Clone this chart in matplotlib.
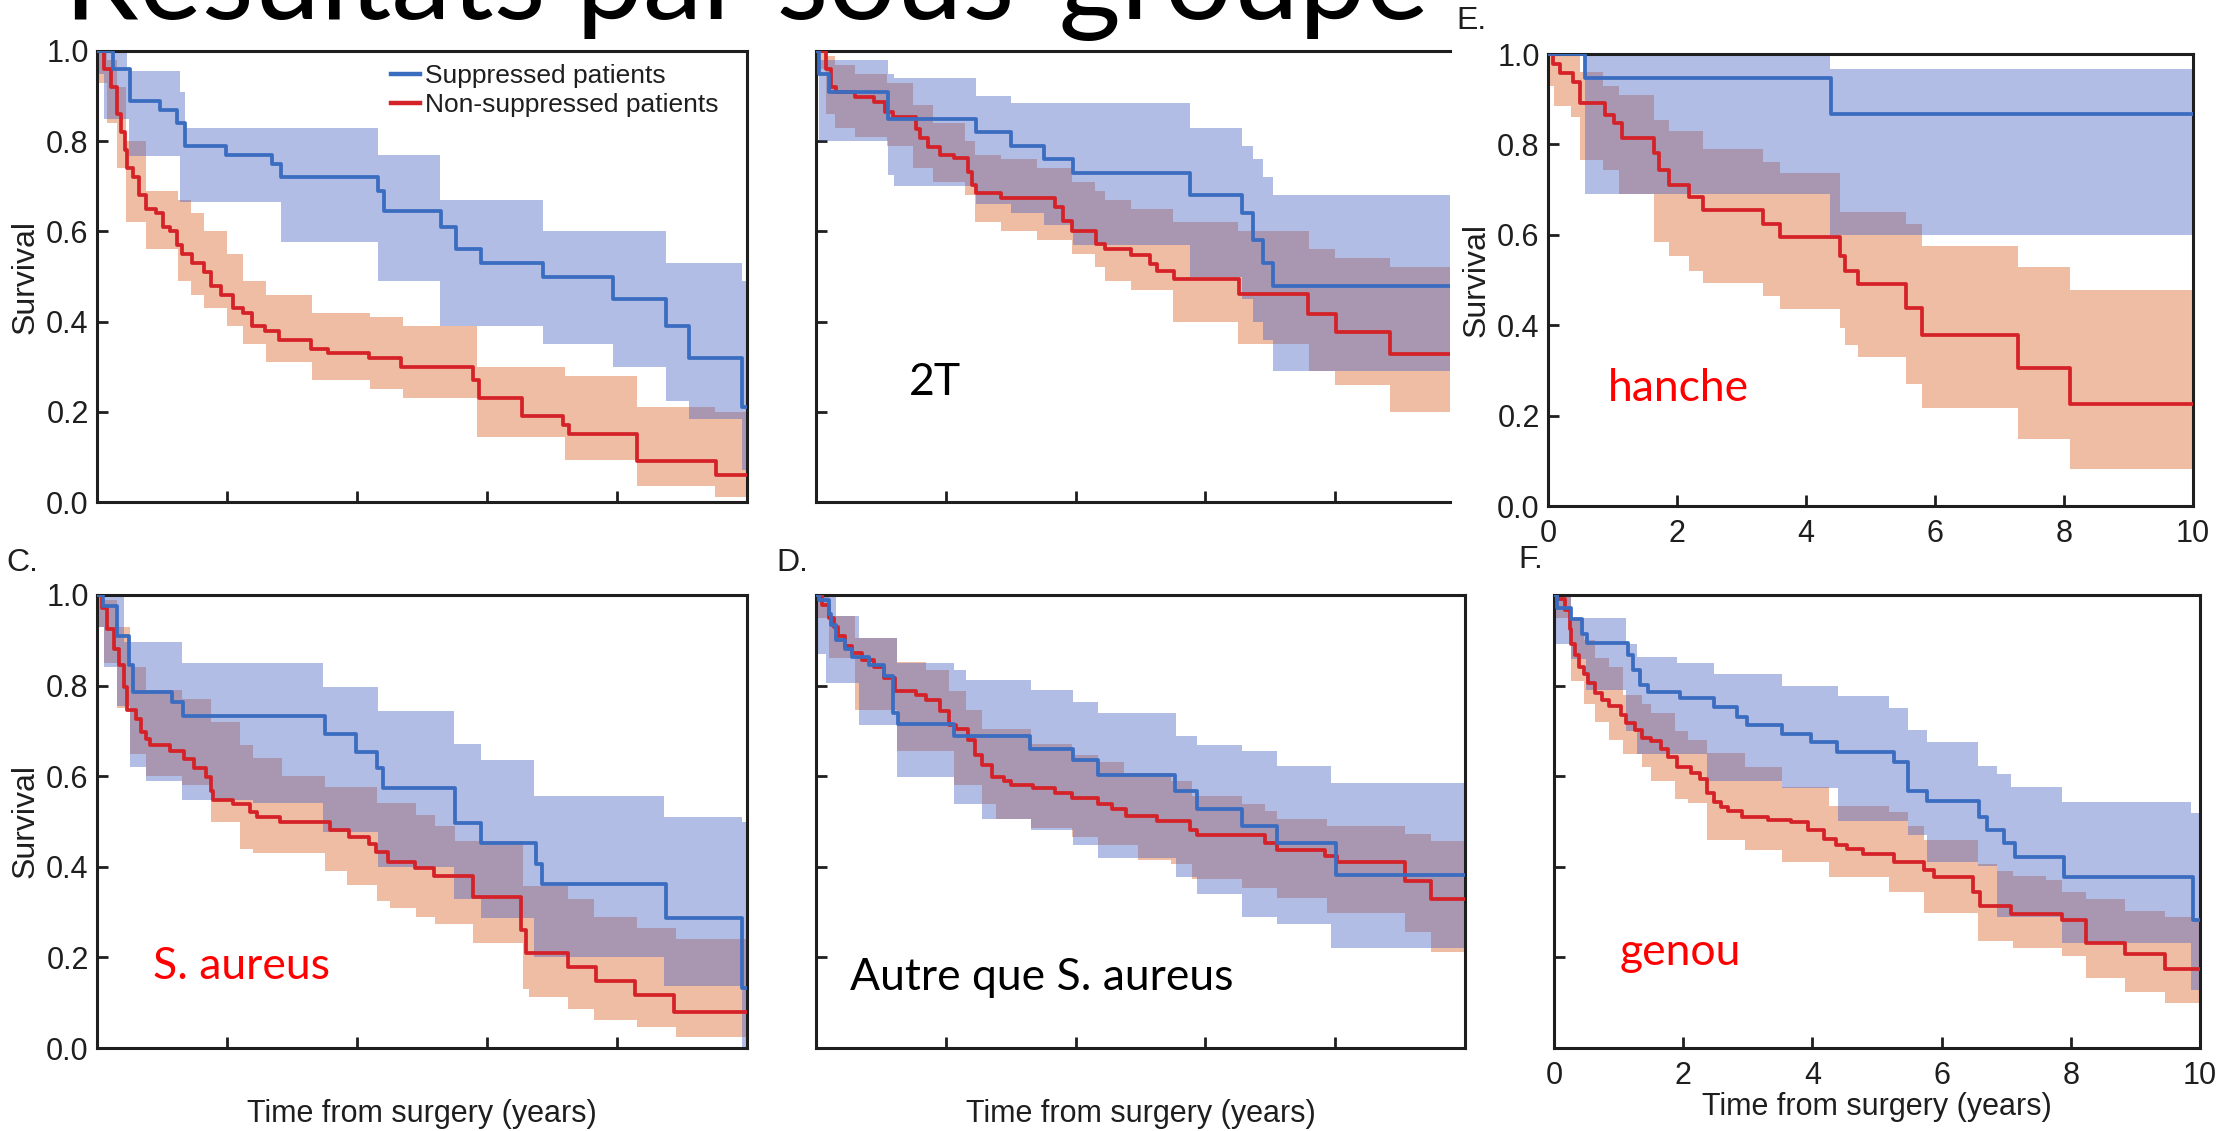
import numpy as np
import matplotlib.pyplot as plt

W, H = 2236, 1131

# ---- A. all patients ----
a_sup_t = [0, 0.24, 0.51, 0.97, 1.23, 1.35, 1.98, 2.69, 2.83, 4.33, 4.41, 5.29, 5.53, 5.90, 6.86, 7.94, 8.76, 9.10, 9.93]
a_sup_s = [1.0, 0.96, 0.89, 0.87, 0.84, 0.79, 0.77, 0.75, 0.72, 0.69, 0.645, 0.61, 0.56, 0.53, 0.50, 0.45, 0.39, 0.32, 0.21]
a_sup_bt = [0, 0.1, 0.46, 0.49, 1.27, 1.35, 2.83, 4.33, 5.27, 6.86, 7.94, 8.76, 9.1, 9.93]
a_sup_hi = [1.0, 1.0, 0.955, 0.955, 0.91, 0.83, 0.83, 0.77, 0.67, 0.60, 0.60, 0.53, 0.53, 0.49]
a_sup_lo = [0.95, 0.85, 0.85, 0.767, 0.665, 0.665, 0.577, 0.49, 0.39, 0.35, 0.30, 0.225, 0.185, 0.07]

a_non_t = [0, 0.11, 0.21, 0.30, 0.37, 0.43, 0.46, 0.56, 0.64, 0.75, 0.90, 1.01, 1.12, 1.23, 1.31, 1.46, 1.64,
           1.76, 1.91, 2.09, 2.24, 2.39, 2.58, 2.80, 3.29, 3.55, 4.19, 4.67, 5.79, 5.87, 6.54, 7.17, 7.26, 8.30, 9.53]
a_non_s = [1.0, 0.96, 0.92, 0.86, 0.82, 0.78, 0.74, 0.72, 0.68, 0.65, 0.64, 0.61, 0.60, 0.57, 0.55, 0.53, 0.51,
           0.48, 0.46, 0.43, 0.42, 0.39, 0.38, 0.36, 0.34, 0.33, 0.32, 0.30, 0.27, 0.23, 0.19, 0.17, 0.15, 0.09, 0.06]
a_non_bt = [0, 0.15, 0.3, 0.45, 0.75, 1.25, 1.45, 1.65, 2.0, 2.25, 2.6, 3.3, 4.2, 4.7, 5.85, 7.2, 8.3, 9.5]
a_non_hi = [1.0, 0.98, 0.92, 0.80, 0.69, 0.67, 0.64, 0.60, 0.55, 0.49, 0.46, 0.42, 0.41, 0.39, 0.30, 0.28, 0.21, 0.20]
a_non_lo = [0.93, 0.84, 0.74, 0.62, 0.56, 0.49, 0.46, 0.43, 0.39, 0.35, 0.31, 0.27, 0.25, 0.23, 0.145, 0.094, 0.035, 0.01]

# ---- B. two-stage exchange ----
b_sup_t = [0, 0.04, 0.20, 1.11, 2.47, 3.0, 3.51, 3.96, 5.77, 6.56, 6.74, 6.89, 7.05]
b_sup_s = [1.0, 0.95, 0.91, 0.85, 0.82, 0.79, 0.76, 0.73, 0.68, 0.64, 0.58, 0.53, 0.48]
b_sup_bt = [0, 0.04, 0.2, 1.11, 1.2, 2.47, 3.0, 3.51, 3.96, 5.77, 6.56, 6.74, 6.89, 7.05, 7.6]
b_sup_hi = [1.0, 0.98, 0.98, 0.95, 0.94, 0.90, 0.885, 0.885, 0.885, 0.83, 0.79, 0.76, 0.72, 0.68, 0.68]
b_sup_lo = [0.96, 0.80, 0.80, 0.725, 0.70, 0.66, 0.64, 0.615, 0.57, 0.50, 0.45, 0.40, 0.36, 0.29, 0.29]

b_non_t = [0, 0.16, 0.23, 0.31, 0.6, 0.89, 1.07, 1.18, 1.54, 1.61, 1.72, 1.91, 2.12, 2.34, 2.41, 2.47, 2.85,
           3.69, 3.80, 3.94, 4.31, 4.45, 4.85, 5.14, 5.25, 5.51, 6.52, 7.58, 8.01, 8.85]
b_non_s = [1.0, 0.96, 0.92, 0.908, 0.897, 0.886, 0.864, 0.853, 0.828, 0.806, 0.787, 0.769, 0.762, 0.732, 0.703,
           0.685, 0.673, 0.655, 0.622, 0.600, 0.571, 0.560, 0.547, 0.527, 0.512, 0.494, 0.461, 0.417, 0.376, 0.329]
b_non_bt = [0, 0.16, 0.3, 0.6, 1.1, 1.5, 1.8, 2.3, 2.45, 2.85, 3.4, 3.94, 4.3, 4.45, 4.85, 5.5, 6.5, 7.6, 8.0, 8.85]
b_non_hi = [1.0, 0.99, 0.97, 0.95, 0.93, 0.88, 0.84, 0.80, 0.77, 0.76, 0.74, 0.71, 0.69, 0.67, 0.65, 0.62, 0.60, 0.56, 0.54, 0.52]
b_non_lo = [0.96, 0.86, 0.83, 0.81, 0.79, 0.74, 0.71, 0.68, 0.62, 0.60, 0.58, 0.55, 0.52, 0.49, 0.47, 0.40, 0.35, 0.29, 0.26, 0.20]

# ---- E. hip ----
e_sup_t = [0, 0.57, 4.39]
e_sup_s = [1.0, 0.946, 0.868]
e_sup_bt = [0, 0.57, 4.37]
e_sup_hi = [1.0, 1.0, 0.967]
e_sup_lo = [1.0, 0.69, 0.60]

e_non_t = [0, 0.08, 0.18, 0.38, 0.50, 0.88, 1.03, 1.15, 1.64, 1.72, 1.87, 2.18, 2.40, 3.34, 3.59, 4.53, 4.60,
           4.81, 5.55, 5.80, 7.29, 8.09]
e_non_s = [1.0, 0.978, 0.959, 0.937, 0.892, 0.866, 0.848, 0.814, 0.78, 0.743, 0.71, 0.684, 0.654, 0.625, 0.595,
           0.554, 0.519, 0.491, 0.439, 0.379, 0.305, 0.225]
e_non_bt = [0, 0.1, 0.35, 0.5, 0.85, 1.1, 1.64, 1.87, 2.18, 2.40, 3.34, 3.59, 4.53, 4.60, 4.81, 5.55, 5.80, 7.29, 8.09]
e_non_hi = [1.0, 1.0, 1.0, 0.96, 0.93, 0.91, 0.855, 0.83, 0.83, 0.79, 0.76, 0.736, 0.65, 0.65, 0.65, 0.625, 0.576, 0.528, 0.477]
e_non_lo = [0.93, 0.885, 0.86, 0.766, 0.743, 0.69, 0.584, 0.554, 0.52, 0.494, 0.465, 0.435, 0.394, 0.357, 0.329,
            0.271, 0.217, 0.149, 0.082]

# ---- C. S. aureus ----
c_sup_t = [0, 0.09, 0.30, 0.49, 0.55, 1.16, 1.33, 3.51, 3.98, 4.31, 4.40, 5.51, 5.90, 6.75, 6.85, 8.75, 9.93]
c_sup_s = [1.0, 0.975, 0.909, 0.846, 0.786, 0.763, 0.732, 0.693, 0.653, 0.617, 0.573, 0.496, 0.452, 0.407, 0.361, 0.288, 0.133]
c_sup_bt = [0, 0.1, 0.3, 0.41, 0.5, 0.75, 1.31, 2.4, 3.47, 4.33, 5.49, 5.90, 6.72, 8.73, 9.93]
c_sup_hi = [1.0, 1.0, 1.0, 0.896, 0.896, 0.896, 0.85, 0.85, 0.797, 0.743, 0.672, 0.635, 0.556, 0.51, 0.50]
c_sup_lo = [0.93, 0.84, 0.755, 0.755, 0.62, 0.59, 0.548, 0.54, 0.477, 0.40, 0.33, 0.286, 0.20, 0.137, 0.0]

c_non_t = [0, 0.07, 0.16, 0.26, 0.34, 0.41, 0.46, 0.60, 0.67, 0.75, 0.82, 1.12, 1.34, 1.49, 1.68, 1.75, 1.79,
           2.09, 2.35, 2.46, 2.82, 3.58, 3.87, 4.18, 4.29, 4.48, 4.89, 5.19, 5.78, 6.53, 6.60, 7.24, 7.67, 8.28, 8.88]
c_non_s = [1.0, 0.971, 0.925, 0.88, 0.846, 0.797, 0.747, 0.726, 0.697, 0.682, 0.668, 0.656, 0.639, 0.618, 0.598,
           0.568, 0.548, 0.539, 0.521, 0.51, 0.498, 0.481, 0.465, 0.45, 0.432, 0.411, 0.398, 0.379, 0.334, 0.26,
           0.209, 0.178, 0.149, 0.116, 0.079]
c_non_bt = [0, 0.1, 0.3, 0.5, 0.75, 1.3, 1.75, 2.2, 2.4, 2.85, 3.5, 3.85, 4.3, 4.5, 4.9, 5.2, 5.5, 5.78, 6.55,
            6.65, 7.25, 7.65, 8.3, 8.9]
c_non_hi = [1.0, 0.99, 0.93, 0.84, 0.79, 0.77, 0.72, 0.668, 0.64, 0.60, 0.577, 0.577, 0.54, 0.54, 0.515, 0.49,
            0.456, 0.456, 0.357, 0.357, 0.33, 0.29, 0.266, 0.24]
c_non_lo = [0.93, 0.85, 0.75, 0.65, 0.60, 0.58, 0.50, 0.44, 0.43, 0.43, 0.39, 0.36, 0.324, 0.31, 0.29, 0.274,
            0.274, 0.232, 0.13, 0.112, 0.087, 0.062, 0.046, 0.025]

# ---- D. other than S. aureus ----
d_sup_t = [0, 0.05, 0.20, 0.23, 0.31, 0.45, 0.56, 0.81, 1.05, 1.19, 1.27, 2.12, 3.30, 3.96, 4.34, 5.53, 5.87, 6.57, 7.11, 8.01]
d_sup_s = [1.0, 0.988, 0.958, 0.934, 0.90, 0.88, 0.863, 0.846, 0.822, 0.739, 0.715, 0.689, 0.66, 0.635, 0.602,
           0.568, 0.527, 0.49, 0.452, 0.383]
d_sup_bt = [0, 0.16, 0.31, 0.67, 1.18, 1.25, 2.05, 2.12, 2.31, 2.56, 3.32, 3.96, 4.34, 5.54, 5.87, 6.56, 7.11, 7.94]
d_sup_hi = [1.0, 1.0, 0.954, 0.905, 0.905, 0.85, 0.85, 0.834, 0.813, 0.813, 0.79, 0.763, 0.739, 0.689, 0.668,
            0.656, 0.622, 0.585]
d_sup_lo = [0.87, 0.805, 0.805, 0.714, 0.714, 0.598, 0.598, 0.539, 0.539, 0.506, 0.481, 0.448, 0.419, 0.378, 0.34,
            0.29, 0.274, 0.22]

d_non_t = [0, 0.09, 0.20, 0.27, 0.34, 0.45, 0.56, 0.71, 0.89, 1.05, 1.21, 1.54, 1.69, 1.91, 2.05, 2.16, 2.34,
           2.45, 2.56, 2.71, 2.89, 3.0, 3.35, 3.69, 3.94, 4.34, 4.56, 4.78, 5.25, 5.77, 5.87, 6.92, 7.11, 7.85,
           8.03, 9.07, 9.47]
d_non_s = [1.0, 0.979, 0.95, 0.93, 0.909, 0.888, 0.871, 0.856, 0.842, 0.817, 0.788, 0.78, 0.768, 0.743, 0.714,
           0.705, 0.68, 0.647, 0.624, 0.598, 0.589, 0.581, 0.574, 0.564, 0.552, 0.539, 0.527, 0.513, 0.502, 0.481,
           0.471, 0.452, 0.436, 0.423, 0.411, 0.369, 0.328]
d_non_bt = [0, 0.2, 0.6, 1.25, 1.69, 2.05, 2.12, 2.31, 2.56, 2.78, 3.32, 3.94, 4.34, 4.74, 4.96, 5.47, 5.8, 6.56,
            6.92, 7.11, 7.87, 9.07, 9.47]
d_non_hi = [1.0, 0.954, 0.905, 0.853, 0.834, 0.788, 0.788, 0.747, 0.705, 0.705, 0.672, 0.647, 0.631, 0.606, 0.606,
            0.589, 0.556, 0.539, 0.523, 0.506, 0.49, 0.473, 0.456]
d_non_lo = [0.95, 0.86, 0.747, 0.655, 0.655, 0.655, 0.581, 0.581, 0.539, 0.506, 0.485, 0.465, 0.448, 0.448, 0.415,
            0.407, 0.373, 0.353, 0.353, 0.332, 0.299, 0.257, 0.212]

# ---- F. knee ----
f_sup_t = [0, 0.04, 0.27, 0.43, 0.51, 1.14, 1.23, 1.33, 1.45, 1.95, 2.48, 2.84, 2.99, 3.53, 3.98, 4.38, 5.26,
           5.48, 5.78, 6.58, 6.71, 6.96, 7.13, 7.90, 9.89]
f_sup_s = [1.0, 0.971, 0.946, 0.913, 0.894, 0.867, 0.834, 0.801, 0.786, 0.772, 0.753, 0.73, 0.714, 0.693, 0.676,
           0.653, 0.631, 0.568, 0.545, 0.51, 0.481, 0.452, 0.421, 0.378, 0.282]
f_sup_bt = [0, 0.27, 0.49, 1.11, 1.29, 1.9, 2.37, 2.48, 3.53, 4.40, 5.19, 5.48, 5.77, 6.57, 6.85, 7.07, 7.87, 9.86]
f_sup_hi = [1.0, 0.95, 0.95, 0.892, 0.863, 0.85, 0.85, 0.826, 0.80, 0.776, 0.751, 0.701, 0.676, 0.622, 0.605,
            0.577, 0.544, 0.519]
f_sup_lo = [0.892, 0.859, 0.79, 0.70, 0.65, 0.65, 0.589, 0.589, 0.573, 0.502, 0.502, 0.47, 0.411, 0.402, 0.29,
            0.29, 0.232, 0.129]

f_non_t = [0, 0.04, 0.17, 0.24, 0.27, 0.33, 0.38, 0.46, 0.53, 0.64, 0.74, 0.85, 1.03, 1.11, 1.25, 1.36, 1.50,
           1.65, 1.76, 1.90, 2.12, 2.26, 2.37, 2.48, 2.59, 2.70, 2.91, 3.31, 3.67, 3.93, 4.18, 4.36, 4.54, 4.79,
           5.26, 5.73, 5.88, 6.49, 6.60, 7.07, 7.87, 8.23, 8.84, 9.46]
f_non_s = [1.0, 0.992, 0.967, 0.925, 0.892, 0.867, 0.842, 0.826, 0.805, 0.784, 0.768, 0.755, 0.734, 0.718, 0.701,
           0.685, 0.678, 0.66, 0.643, 0.62, 0.606, 0.593, 0.564, 0.544, 0.531, 0.523, 0.51, 0.504, 0.498, 0.481,
           0.461, 0.448, 0.44, 0.429, 0.411, 0.394, 0.378, 0.344, 0.313, 0.296, 0.282, 0.232, 0.207, 0.174]
f_non_bt = [0, 0.27, 0.46, 0.64, 0.85, 1.07, 1.36, 1.50, 1.87, 2.08, 2.37, 2.95, 3.53, 4.25, 5.19, 5.48, 5.73,
            6.57, 6.85, 7.11, 7.61, 7.87, 8.23, 8.84, 9.46, 9.89]
f_non_hi = [1.0, 0.95, 0.90, 0.86, 0.84, 0.78, 0.76, 0.74, 0.70, 0.68, 0.651, 0.62, 0.577, 0.535, 0.52, 0.49,
            0.46, 0.407, 0.39, 0.38, 0.37, 0.344, 0.33, 0.303, 0.29, 0.282]
f_non_lo = [0.95, 0.81, 0.76, 0.72, 0.68, 0.65, 0.62, 0.59, 0.55, 0.54, 0.46, 0.436, 0.41, 0.378, 0.344, 0.344,
            0.299, 0.237, 0.237, 0.22, 0.22, 0.203, 0.154, 0.124, 0.10, 0.10]

yticks = [0.0, 0.2, 0.4, 0.6, 0.8, 1.0]
xticks = [0, 2, 4, 6, 8, 10]
legend_labels = ['Suppressed patients', 'Non-suppressed patients']

BLUE = '#3a6cc0'
RED = '#d42228'
BLUE_BAND = (0.30, 0.40, 0.78)
RED_BAND = (0.86, 0.40, 0.17)
AX_FONT = ['Liberation Sans', 'DejaVu Sans']
NOTE_FONT = ['Lato', 'DejaVu Sans']
INK = '#1e1e1e'

fig = plt.figure(figsize=(W / 100, H / 100), dpi=100)


def px_axes(left, top, right, bottom):
    return fig.add_axes([left / W, 1 - bottom / H, (right - left) / W, (bottom - top) / H])


def km(ax, t, s, bt, lo, hi, color, band, xmax, z):
    bt_ext = np.append(bt, xmax)
    ax.fill_between(bt_ext, np.append(lo, lo[-1]), np.append(hi, hi[-1]), step='post',
                    color=band, alpha=0.43, lw=0, zorder=z)
    line, = ax.step(np.append(t, xmax), np.append(s, s[-1]), where='post', color=color, lw=2.7, zorder=z + 3)
    return line


def panel(box, sup, non, xmax=10, ylab=False, xlab=False, xticklab=False, right_spine=True):
    ax = px_axes(*box)
    km(ax, *non, RED, RED_BAND, xmax, 1)
    km(ax, *sup, BLUE, BLUE_BAND, xmax, 2)
    ax.set_xlim(0, xmax)
    ax.set_ylim(0, 1.0)
    ax.set_xticks(xticks[:-1] if xmax < 10 else xticks)
    ax.set_yticks(yticks)
    ax.tick_params(direction='in', length=8, width=2, labelsize=22, pad=6, colors=INK)
    if not ylab:
        ax.set_yticklabels([])
    else:
        ax.set_yticklabels([f'{v:.1f}' for v in yticks], family=AX_FONT)
        ax.set_ylabel('Survival', family=AX_FONT, fontsize=23, labelpad=4, color=INK)
    if xticklab:
        ax.set_xticklabels([str(v) for v in xticks], family=AX_FONT)
        ax.tick_params(axis='x', pad=9)
    elif xlab:
        ax.set_xticklabels([str(v) for v in xticks], family=AX_FONT, alpha=0)
        ax.tick_params(axis='x', pad=14)
    else:
        ax.set_xticklabels([])
    if xlab:
        ax.set_xlabel('Time from surgery (years)', family=AX_FONT, fontsize=22, labelpad=1, color=INK)
    for sp in ax.spines.values():
        sp.set_linewidth(2.2)
        sp.set_color(INK)
    if not right_spine:
        ax.spines['right'].set_visible(False)
    return ax


ax_a = panel((97, 51, 747, 502),
             (a_sup_t, a_sup_s, a_sup_bt, a_sup_lo, a_sup_hi),
             (a_non_t, a_non_s, a_non_bt, a_non_lo, a_non_hi), ylab=True)
ax_b = panel((816, 51, 1450, 502),
             (b_sup_t, b_sup_s, b_sup_bt, b_sup_lo, b_sup_hi),
             (b_non_t, b_non_s, b_non_bt, b_non_lo, b_non_hi), xmax=9.77, right_spine=False)
ax_e = panel((1548, 54, 2193, 506),
             (e_sup_t, e_sup_s, e_sup_bt, e_sup_lo, e_sup_hi),
             (e_non_t, e_non_s, e_non_bt, e_non_lo, e_non_hi), ylab=True, xticklab=True)
ax_c = panel((97, 595, 747, 1048),
             (c_sup_t, c_sup_s, c_sup_bt, c_sup_lo, c_sup_hi),
             (c_non_t, c_non_s, c_non_bt, c_non_lo, c_non_hi), ylab=True, xlab=True)
ax_d = panel((816, 595, 1465, 1048),
             (d_sup_t, d_sup_s, d_sup_bt, d_sup_lo, d_sup_hi),
             (d_non_t, d_non_s, d_non_bt, d_non_lo, d_non_hi), xlab=True)
ax_f = panel((1554, 595, 2200, 1048),
             (f_sup_t, f_sup_s, f_sup_bt, f_sup_lo, f_sup_hi),
             (f_non_t, f_non_s, f_non_bt, f_non_lo, f_non_hi), xlab=True, xticklab=True)

# legend (panel A only)
h_sup = plt.Line2D([], [], color=BLUE, lw=3.2)
h_non = plt.Line2D([], [], color=RED, lw=3.2)
ax_a.legend([h_sup, h_non], legend_labels, loc='upper right', bbox_to_anchor=(0.985, 1.012), frameon=False,
            prop={'family': AX_FONT, 'size': 19}, handlelength=1.1, handletextpad=0.2, labelspacing=0.2,
            borderaxespad=0.3, labelcolor=INK)

# panel letters
for x, y, s in [(1456, 21, 'E.'), (6, 563, 'C.'), (776, 563, 'D.'), (1518, 560, 'F.')]:
    fig.text(x / W, 1 - y / H, s, fontsize=23, family=AX_FONT, va='center', ha='left', color=INK)

# subgroup annotations
ax_b.text(1.83, 0.266, '2T', fontsize=32, family=NOTE_FONT, color='black', ha='center', va='center')
ax_e.text(2.02, 0.261, 'hanche', fontsize=32, family=NOTE_FONT, color='red', ha='center', va='center')
ax_c.text(2.23, 0.179, 'S. aureus', fontsize=32, family=NOTE_FONT, color='red', ha='center', va='center')
ax_d.text(3.48, 0.155, 'Autre que S. aureus', fontsize=32, family=NOTE_FONT, color='black', ha='center', va='center')
ax_f.text(1.95, 0.21, 'genou', fontsize=32, family=NOTE_FONT, color='red', ha='center', va='center')

# slide title, partly above the top edge
fig.text(64 / W, 1 - 19 / H, 'Résultats par sous-groupe', fontsize=86, family=NOTE_FONT, va='baseline',
         ha='left', color='black')

fig.savefig('out.png', dpi=100, facecolor='white')
